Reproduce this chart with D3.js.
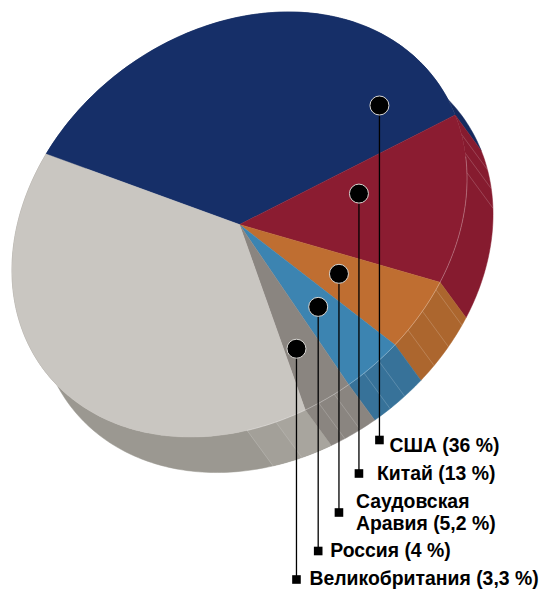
<!DOCTYPE html>
<html>
<head>
<meta charset="utf-8">
<script src="https://cdn.jsdelivr.net/npm/d3@7"></script>
<style>
    html, body { margin: 0; padding: 0; background: #fff; }
    svg { display: block; }
    text { font-family: "Liberation Sans", Arial, sans-serif; font-weight: bold; fill: #000; }
</style>
</head>
<body>
<div id="chart"></div>
<script>
// Share of the slices, in the order they go round the pie
const countries = ['США', 'Китай', 'Саудовская Аравия', 'Россия', 'Великобритания', 'Другие'];
const shares = [36, 13, 5.2, 4, 3.3, 38.5];
const labelLines = [
    ['США (36 %)'],
    ['Китай (13 %)'],
    ['Саудовская', 'Аравия (5,2 %)'],
    ['Россия (4 %)'],
    ['Великобритания (3,3 %)']
];

// Slice colours
const topColors = ['#162f68', '#8b1c31', '#bf6e31', '#3c84b1', '#8a8580', '#c9c6c1'];
const rimColors = ['#142a5e', '#861b2f', '#ac662e', '#377299', '#8a8580', '#9b9891'];

// Callout dots: position along the slice (0..1) and distance from the centre (0..1)
const dotAlong = [0.87, 0.32, 0.49, 0.48, 0.65];
const dotRadius = [0.755, 0.526, 0.55, 0.586, 0.70];
// Where each leader ends, and the text baseline next to it
const markerY = [440, 473.5, 512.5, 551, 579.5];
const labelGap = [10, 18, 17, 12, 13];
const labelBaseline = [452, 480, 508, 557, 585];

// Facet lines on the rim, degrees round the pie
const rimFacets = [17.5, 23, 28.5, 60.5, 66.7, 72.4, 82.5, 87, 95.6, 99.8, 111, 118.3];

const width = 540;
const height = 590;
const cx = 239.5;
const cy = 224.5;
const rx = 243.7;   // radius along the long axis of the tilted disc
const ry = 193.8;
const tilt = -36.2; // degrees
const depth = 44;   // thickness of the disc
const startDeg = 242;

const rad = d => d * Math.PI / 180;

// Disc coordinates to screen: t is degrees clockwise from the long axis
const tiltX = Math.cos(rad(tilt));
const tiltY = Math.sin(rad(tilt));
function project(t, r = 1, drop = 0) {
    const u = rx * r * Math.cos(rad(t));
    const v = ry * r * Math.sin(rad(t)) + drop;
    return [cx + u * tiltX - v * tiltY, cy + u * tiltY + v * tiltX];
}

const pie = d3.pie()
    .sort(null)
    .startAngle(rad(startDeg))
    .endAngle(rad(startDeg + 360));

const slices = pie(shares).map(d => ({
    ...d,
    t0: d.startAngle * 180 / Math.PI,
    t1: d.endAngle * 180 / Math.PI
}));

const line = d3.line();
const arcPoints = (t0, t1, drop = 0) => {
    const n = Math.ceil(Math.abs(t1 - t0));
    return d3.range(n + 1).map(i => project(t0 + (t1 - t0) * i / n, 1, drop));
};

const svg = d3.select('#chart')
    .append('svg')
    .attr('width', width)
    .attr('height', height);

// Rim first, the top of the disc covers its back half
svg.append('g')
    .selectAll('path')
    .data(slices)
    .join('path')
    .attr('d', d => line([...arcPoints(d.t0, d.t1), ...arcPoints(d.t1, d.t0, depth)]) + 'Z')
    .attr('fill', (d, i) => rimColors[i])
    .attr('stroke', (d, i) => rimColors[i])
    .attr('stroke-width', 0.5);

// Lighter facets at the near end of the grey slice
const greyStart = slices[5].t0 - 360;
[[greyStart, 111, '#a8a59e'], [111, 118.3, '#a3a099']].forEach(([a, b, c]) => {
    svg.append('path')
        .attr('d', line([...arcPoints(a, b), ...arcPoints(b, a, depth)]) + 'Z')
        .attr('fill', c);
});

svg.append('g')
    .selectAll('line')
    .data(rimFacets)
    .join('line')
    .attr('x1', d => project(d)[0])
    .attr('y1', d => project(d)[1])
    .attr('x2', d => project(d, 1, depth)[0])
    .attr('y2', d => project(d, 1, depth)[1])
    .attr('stroke', '#fff')
    .attr('stroke-opacity', 0.3)
    .attr('stroke-width', 0.6);

// Top of the disc
svg.append('g')
    .selectAll('path')
    .data(slices)
    .join('path')
    .attr('d', d => line([project(0, 0), ...arcPoints(d.t0, d.t1)]) + 'Z')
    .attr('fill', (d, i) => topColors[i])
    .attr('stroke', (d, i) => topColors[i])
    .attr('stroke-width', 0.4);

// Thin highlight along the front edge
svg.append('path')
    .attr('d', line(arcPoints(24, 118.3)))
    .attr('fill', 'none')
    .attr('stroke', '#fff')
    .attr('stroke-opacity', 0.4)
    .attr('stroke-width', 0.7);

// Callouts
const callouts = labelLines.map((lines, i) => {
    const s = slices[i];
    const t = s.t0 + (s.t1 - s.t0) * dotAlong[i];
    const [x, y] = project(t, dotRadius[i]);
    return { lines, x, y, my: markerY[i], gap: labelGap[i], baseline: labelBaseline[i] };
});

const callout = svg.append('g')
    .selectAll('g')
    .data(callouts)
    .join('g');

callout.append('line')
    .attr('x1', d => d.x)
    .attr('x2', d => d.x)
    .attr('y1', d => d.y)
    .attr('y2', d => d.my)
    .attr('stroke', '#000')
    .attr('stroke-width', 1.3);

callout.append('rect')
    .attr('x', d => d.x - 4.3)
    .attr('y', d => d.my - 4.3)
    .attr('width', 8.6)
    .attr('height', 8.6)
    .attr('fill', '#000');

callout.append('circle')
    .attr('cx', d => d.x)
    .attr('cy', d => d.y)
    .attr('r', 9.5)
    .attr('fill', '#000')
    .attr('stroke', '#d8d6d2')
    .attr('stroke-width', 1);

callout.each(function (d) {
    const g = d3.select(this);
    d.lines.forEach((text, i) => {
        g.append('text')
            .attr('x', d.x + d.gap)
            .attr('y', d.baseline + i * 22)
            .attr('font-size', 19.4)
            .text(text);
    });
});
</script>
</body>
</html>
